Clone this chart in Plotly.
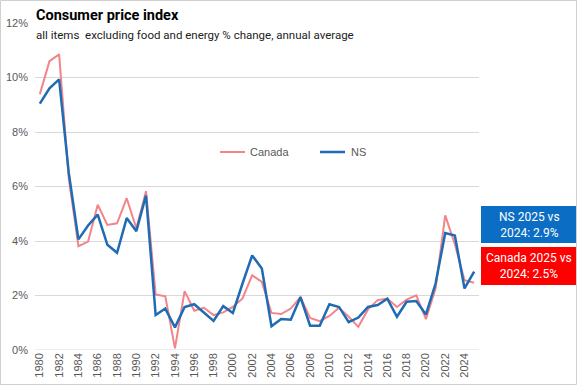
import plotly.graph_objects as go

years = list(range(1980, 2026))
canada = [9.39, 10.6, 10.85, 6.3, 3.81, 3.98, 5.33, 4.59, 4.65, 5.57, 4.47, 5.83, 2.04, 1.97, 0.06,
          2.16, 1.44, 1.55, 1.28, 1.38, 1.58, 1.89, 2.74, 2.50, 1.36, 1.32, 1.52, 1.94, 1.18, 1.06,
          1.25, 1.55, 1.22, 0.85, 1.49, 1.83, 1.89, 1.58, 1.85, 2.01, 1.13, 2.26, 4.94, 3.88, 2.56, 2.47]
ns = [9.04, 9.6, 9.93, 6.5, 4.06, 4.57, 4.97, 3.86, 3.57, 4.84, 4.36, 5.67, 1.28, 1.52, 0.83,
      1.58, 1.68, 1.36, 1.07, 1.61, 1.36, 2.44, 3.47, 2.99, 0.87, 1.14, 1.11, 1.94, 0.89, 0.89,
      1.68, 1.58, 1.02, 1.19, 1.58, 1.65, 1.88, 1.22, 1.77, 1.80, 1.30, 2.44, 4.29, 4.20, 2.26, 2.88]
tick_years = list(range(1980, 2026, 2))
y_ticks = [0, 2, 4, 6, 8, 10, 12]
y_labels = [f"{v}%" for v in y_ticks]
series_names = ["Canada", "NS"]
series_colors = ["#F2848A", "#1F6BB4"]

W, H = 577, 385
L, R, T, B = 35, 98, 23, 35
pw, ph = W - L - R, H - T - B

def px(x):
    return (x - L) / pw

def py(y):
    return (H - B - y) / ph

fig = go.Figure()
fig.add_trace(go.Scatter(x=years, y=canada, mode="lines", name=series_names[0],
                         line=dict(color=series_colors[0], width=2)))
fig.add_trace(go.Scatter(x=years, y=ns, mode="lines", name=series_names[1],
                         line=dict(color=series_colors[1], width=2.5)))

tickfont = dict(family="Liberation Sans, Arial, sans-serif", size=11, color="#595959")

fig.update_layout(
    width=W, height=H,
    margin=dict(l=L, r=R, t=T, b=B, autoexpand=False),
    paper_bgcolor="white", plot_bgcolor="white",
    showlegend=False,
    xaxis=dict(range=[1979.5, 2025.5], tickvals=tick_years, ticktext=[str(y) for y in tick_years],
               tickangle=-90, tickfont=tickfont, showgrid=False, zeroline=False,
               showline=False, ticks="", automargin=False),
    yaxis=dict(range=[0, 12], tickvals=y_ticks, ticktext=y_labels, tickfont=tickfont,
               showgrid=True, gridcolor="#D9D9D9", gridwidth=1, zeroline=False,
               showline=False, ticks="", automargin=False, ticklabelstandoff=6),
    font=dict(family="Liberation Sans, Arial, sans-serif"),
)

# legend (manual, to match reference spacing)
legend_items = [(220, 245, 248), (320, 345, 349)]
for (x0, x1, xt), name, col, w in zip(legend_items, series_names, series_colors, [2, 2.5]):
    fig.add_shape(type="line", xref="paper", yref="paper", x0=px(x0), x1=px(x1),
                  y0=py(152), y1=py(152), line=dict(color=col, width=w))
    fig.add_annotation(text=name, xref="paper", yref="paper", x=px(xt), y=py(152),
                       xanchor="left", yanchor="middle", showarrow=False, font=tickfont)

# title / subtitle
fig.add_annotation(text="<b>Consumer price index</b>", xref="paper", yref="paper",
                   x=px(34), y=py(16), xanchor="left", yanchor="middle", showarrow=False,
                   font=dict(family="Roboto, Liberation Sans, sans-serif", size=14.5, color="#000000"))
fig.add_annotation(text="all items  excluding food and energy % change, annual average",
                   xref="paper", yref="paper", x=px(34), y=py(35), xanchor="left", yanchor="middle",
                   showarrow=False,
                   font=dict(family="Roboto, Liberation Sans, sans-serif", size=11.5, color="#222222"))

# boxes
fig.add_shape(type="rect", xref="paper", yref="paper", x0=px(481), x1=px(577), y0=py(243), y1=py(206),
              fillcolor="#0B6EC4", line=dict(width=0), layer="above")
fig.add_shape(type="rect", xref="paper", yref="paper", x0=px(481), x1=px(577), y0=py(285), y1=py(247),
              fillcolor="#FF0000", line=dict(width=0), layer="above")
fig.add_annotation(text="NS 2025 vs<br>2024: 2.9%", xref="paper", yref="paper",
                   x=px(529), y=py(224.5), xanchor="center", yanchor="middle", showarrow=False,
                   font=dict(family="Roboto, Liberation Sans, sans-serif", size=12, color="white"))
fig.add_annotation(text="Canada 2025 vs<br>2024: 2.5%", xref="paper", yref="paper",
                   x=px(529), y=py(266), xanchor="center", yanchor="middle", showarrow=False,
                   font=dict(family="Roboto, Liberation Sans, sans-serif", size=12, color="white"))

# axis baseline
fig.add_shape(type="line", xref="paper", yref="y", x0=0, x1=1, y0=0, y1=0,
              line=dict(color="#D9D9D9", width=1))

# outer border
fig.add_shape(type="rect", xref="paper", yref="paper", x0=px(0.5), x1=px(576.5), y0=py(384.5), y1=py(0.5),
              line=dict(color="#D0D0D0", width=1), fillcolor="rgba(0,0,0,0)")

fig.write_html("out.html", config={"displayModeBar": False},
               post_script="document.body.style.margin='0';document.body.style.overflow='hidden';")
